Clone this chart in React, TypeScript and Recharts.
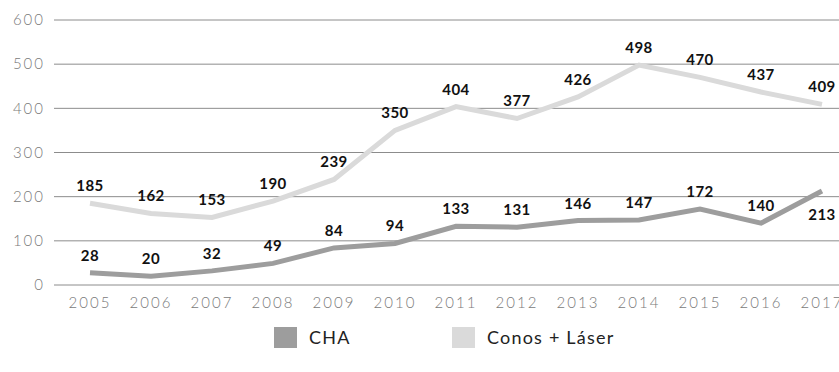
import React from "react";
import { LineChart, Line, XAxis, YAxis, CartesianGrid, Legend, LabelList } from "recharts";

const years = ["2005", "2006", "2007", "2008", "2009", "2010", "2011", "2012", "2013", "2014", "2015", "2016", "2017"];
const cha = [28, 20, 32, 49, 84, 94, 133, 131, 146, 147, 172, 140, 213];
const conos = [185, 162, 153, 190, 239, 350, 404, 377, 426, 498, 470, 437, 409];
const yTicks = [0, 100, 200, 300, 400, 500, 600];

const CHA_COLOR = "#9d9d9d";
const CONOS_COLOR = "#dadada";
const FONT = "Lato, 'Open Sans', sans-serif";

const data = years.map((y, i) => ({ year: y, cha: cha[i], conos: conos[i] }));

const makeLabel = (series: string) => (props: any) => {
  const { x, y, value, index } = props;
  const below = series === "cha" && index === cha.length - 1;
  return (
    <text
      x={x}
      y={below ? y + 29 : y - 12}
      textAnchor="middle"
      fill="#111"
      fontFamily={FONT}
      fontWeight={700}
      fontSize={15}
      letterSpacing={0.5}
    >
      {value}
    </text>
  );
};

const LegendContent = () => (
  <div style={{ position: "relative", height: 40, fontFamily: FONT, fontSize: 18, color: "#222", letterSpacing: 1.2 }}>
    {[
      { name: "CHA", color: CHA_COLOR, left: 274 },
      { name: "Conos + Láser", color: CONOS_COLOR, left: 452 },
    ].map((it) => (
      <div key={it.name} style={{ position: "absolute", left: it.left, top: -6, display: "flex", alignItems: "center" }}>
        <div style={{ width: 23, height: 21, background: it.color }} />
        <span style={{ marginLeft: 12 }}>{it.name}</span>
      </div>
    ))}
  </div>
);

const tickStyle = { fill: "#7a7a7a", fontSize: 15, fontFamily: FONT, fontWeight: 300, letterSpacing: 2 };

export default function App() {
  return (
    <div style={{ position: "absolute", left: 0, top: 0, background: "#fff" }}>
      <LineChart width={839} height={372} data={data} margin={{ top: 20, right: 0, bottom: 0, left: 0 }}>
        <CartesianGrid horizontal vertical={false} stroke="#8c8c8c" strokeWidth={1} />
        <XAxis
          dataKey="year"
          type="category"
          scale="point"
          padding={{ left: 36, right: 17 }}
          axisLine={false}
          tickLine={false}
          tickSize={0}
          tickMargin={12}
          height={47}
          interval={0}
          tick={tickStyle}
        />
        <YAxis
          domain={[0, 600]}
          ticks={yTicks}
          axisLine={false}
          tickLine={false}
          tickSize={0}
          tickMargin={9}
          width={54}
          interval={0}
          tick={tickStyle}
        />
        <Legend verticalAlign="bottom" content={LegendContent} wrapperStyle={{ height: 40 }} />
        <Line
          type="linear"
          dataKey="conos"
          stroke={CONOS_COLOR}
          strokeWidth={5}
          dot={false}
          activeDot={false}
          isAnimationActive={false}
        >
          <LabelList dataKey="conos" content={makeLabel("conos")} />
        </Line>
        <Line
          type="linear"
          dataKey="cha"
          stroke={CHA_COLOR}
          strokeWidth={5}
          dot={false}
          activeDot={false}
          isAnimationActive={false}
        >
          <LabelList dataKey="cha" content={makeLabel("cha")} />
        </Line>
      </LineChart>
    </div>
  );
}
